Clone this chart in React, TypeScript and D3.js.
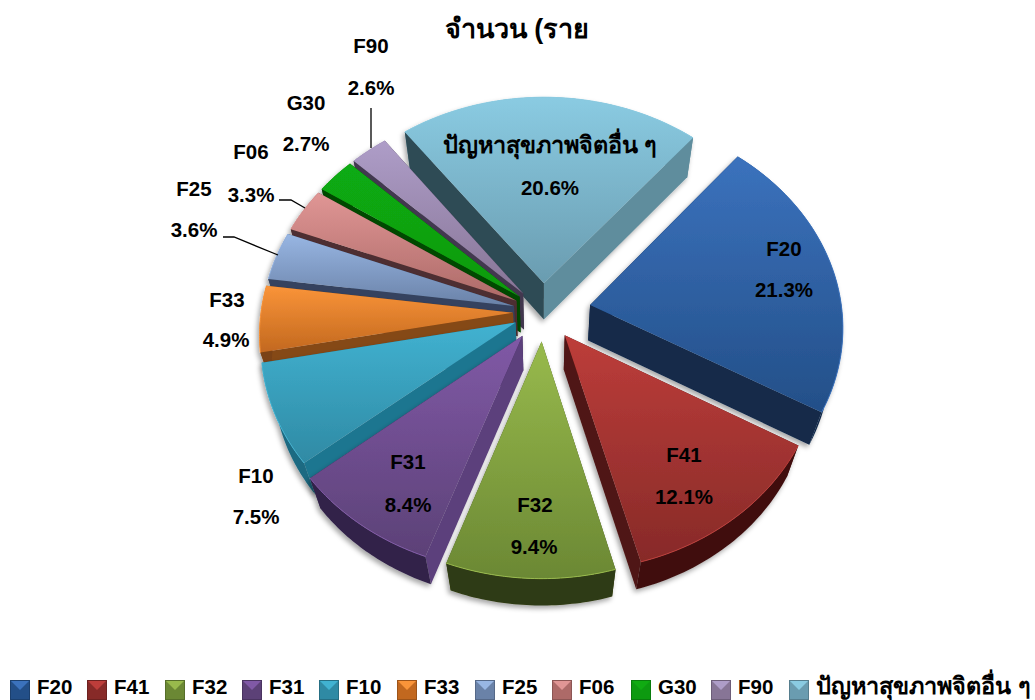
import React from "react";
import * as d3 from "d3";

const categories = ["F20", "F41", "F32", "F31", "F10", "F33", "F25", "F06", "G30", "F90", "ปัญหาสุขภาพจิตอื่น ๆ"];
const percents = [21.3, 12.1, 9.4, 8.4, 7.5, 4.9, 3.6, 3.3, 2.7, 2.6, 20.6];
const titleText = "จำนวน (ราย";

// colours per slice: top light, top dark, start side, end side, outer wall
const topLight = ["#3b72bd", "#bd3d3a", "#98ba4c", "#8059a6", "#41b2d1", "#fa9439", "#98b6e3", "#e09695", "#10ab12", "#ae9dc8", "#8acbe2"];
const topDark = ["#234f88", "#872a28", "#6b8834", "#5c4177", "#2f8aa4", "#c2681f", "#6a82a8", "#ad6a68", "#0d9a10", "#877596", "#6a9cb0"];
const startSide = ["#12294a", "#4f1614", "#3a4a18", "#5b3f7b", "#1f7690", "#854816", "#36435e", "#4e2f30", "#004800", "#42384f", "#2f4b54"];
const endSide = ["#12294a", "#4f1614", "#3a4a18", "#33244a", "#1d6a82", "#7a4214", "#36435e", "#4e2f30", "#004800", "#42384f", "#5f8d9d"];
const outerWall = ["#12294a", "#3f1110", "#2f3a12", "#33244a", "#1d6a82", "#7a4214", "#36435e", "#4e2f30", "#004800", "#42384f", "#5f8d9d"];

// which slices pull further out of the pie
const explodeBy = [48, 35, 35, 35, 30, 30, 30, 30, 30, 30, 35];

// hand placed labels, same order as categories: [name x, name y, pct x, pct y]
const labelSpots = [
  [784, 256, 784, 297], [684, 462, 684, 504], [535, 512, 534, 554], [408, 469, 408, 512],
  [256, 483, 256, 524], [227, 307, 226, 347], [194, 196, 194, 237], [251, 159, 251, 202],
  [306, 110, 306, 151], [371, 53, 371, 95], [550, 153, 550, 195],
];
const leaders = [
  [[371, 108], [371, 148]],
  [[279, 200], [291, 200], [305, 208]],
  [[223, 237], [234, 237], [278, 255]],
];
const legendSpots = [10, 87, 165, 242, 319, 397, 475, 552, 631, 711, 789];

const W = 1035;
const H = 700;
const cx = 543;
const cy = 312;
const R = 252;
const depth = 66;
const tilt = (56 * Math.PI) / 180;
const dist = 1490;
const zPull = 1.2;
const rad0 = (40 * Math.PI) / 180;

function project(x: number, y: number, z: number): [number, number] {
  const yc = y * Math.sin(tilt) + z * Math.cos(tilt);
  const d = dist + y * Math.cos(tilt) - z * Math.sin(tilt) * zPull;
  const s = dist / d;
  return [cx + x * s, cy - yc * s];
}

const line = d3.line();
const fmt = d3.format(".1f");

const pie = d3.pie<number>().sort(null).startAngle(rad0).endAngle(rad0 + Math.PI * 2);
const arcs = pie(percents);

const slices = arcs.map((a, i) => {
  const mid = (a.startAngle + a.endAngle) / 2;
  const ox = explodeBy[i] * Math.sin(mid);
  const oy = explodeBy[i] * Math.cos(mid);
  const angles = d3.range(0, 41).map(k => a.startAngle + ((a.endAngle - a.startAngle) * k) / 40);
  const rim = (z: number) => angles.map(t => project(ox + R * Math.sin(t), oy + R * Math.cos(t), z));
  const apex = (z: number) => project(ox, oy, z);
  const topRim = rim(0);
  const botRim = rim(-depth);
  const top = line([apex(0), ...topRim])! + "Z";
  const outer = { d: line([...topRim, ...[...botRim].reverse()])! + "Z", fill: outerWall[i] };
  const sideA = { d: line([apex(0), topRim[0], botRim[0], apex(-depth)])! + "Z", fill: startSide[i], back: Math.cos(a.startAngle) };
  const sideB = { d: line([apex(0), topRim[40], botRim[40], apex(-depth)])! + "Z", fill: endSide[i], back: Math.cos(a.endAngle) };
  // the side further back goes down first so the front one covers it
  const sides = sideA.back > sideB.back ? [sideA, sideB] : [sideB, sideA];
  // a rim facing away from the viewer goes under the side walls
  const walls = Math.cos(mid) > 0 ? [outer, ...sides] : [...sides, outer];
  return { i, mid, top, walls, edge: line(topRim)! };
});

// paint from the back of the pie to the front
const paintOrder = [...slices].sort((a, b) => Math.cos(b.mid) - Math.cos(a.mid));

const font = "'Liberation Sans', Arial, sans-serif";
const textSize = (c: string) => (c.length > 3 ? 23.5 : 20.5);

function LegendKey({ x, i }: { x: number; i: number }) {
  const s = 20;
  const y = 680;
  return (
    <g>
      <rect x={x} y={y} width={s} height={s} fill={topDark[i]} />
      <path d={`M${x},${y}L${x + s},${y}L${x + s / 2},${y + s / 2}Z`} fill={topLight[i]} />
      <rect x={x + 0.5} y={y + 0.5} width={s - 1} height={s - 1} fill="none" stroke={d3.color(topDark[i])!.darker(0.6).toString()} />
    </g>
  );
}

export default function App() {
  return (
    <svg width={W} height={H} viewBox={`0 0 ${W} ${H}`} style={{ position: "absolute", left: 0, top: 0, background: "#fff" }} fontFamily={font} fontWeight="bold">
      <defs>
        {categories.map((c, i) => (
          <linearGradient key={c} id={`top${i}`} x1="0" y1="0" x2="0" y2="1">
            <stop offset="0" stopColor={topLight[i]} />
            <stop offset="1" stopColor={topDark[i]} />
          </linearGradient>
        ))}
        <filter id="soft" x="-10%" y="-10%" width="120%" height="120%">
          <feDropShadow dx="-2" dy="3" stdDeviation="2.5" floodColor="#000" floodOpacity="0.35" />
        </filter>
      </defs>

      <text x={517} y={38} textAnchor="middle" fontSize={27}>{titleText}</text>

      {paintOrder.map(s => (
        <g key={s.i} filter="url(#soft)">
          {s.walls.map((w, k) => <path key={k} d={w.d} fill={w.fill} />)}
          <path d={s.top} fill={`url(#top${s.i})`} />
          <path d={s.edge} fill="none" stroke={topLight[s.i]} strokeWidth={1} />
        </g>
      ))}

      {leaders.map((l, i) => (
        <path key={i} d={line(l as [number, number][])!} fill="none" stroke="#000" strokeWidth={1.3} />
      ))}

      {categories.map((c, i) => (
        <g key={c} textAnchor="middle" fill="#000" fontSize={20.5}>
          <text x={labelSpots[i][0]} y={labelSpots[i][1]} fontSize={textSize(c)}>{c}</text>
          <text x={labelSpots[i][2]} y={labelSpots[i][3]}>{fmt(percents[i])}%</text>
        </g>
      ))}

      {categories.map((c, i) => (
        <g key={c}>
          <LegendKey x={legendSpots[i]} i={i} />
          <text x={legendSpots[i] + 27} y={694} fontSize={textSize(c)}>{c}</text>
        </g>
      ))}
    </svg>
  );
}
